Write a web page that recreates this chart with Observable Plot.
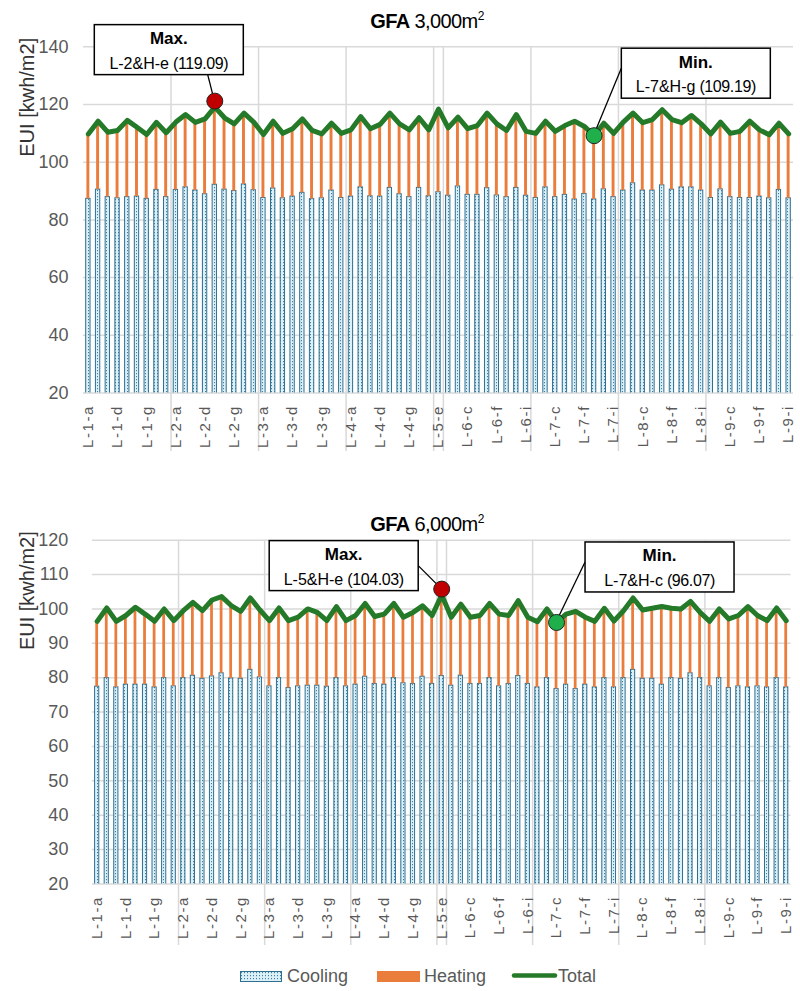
<!DOCTYPE html>
<html>
<head>
<meta charset="utf-8">
<script src="https://cdn.jsdelivr.net/npm/d3@7"></script>
<script src="https://cdn.jsdelivr.net/npm/@observablehq/plot@0.6"></script>
<style>
  body { margin: 0; background: #fff; }
  #wrap { position: relative; width: 800px; height: 991px; overflow: hidden; font-family: "Liberation Sans", Arial, sans-serif; }
  .title { position: absolute; left: 277px; width: 300px; text-align: center; font-family: "Liberation Sans Narrow", "Arial Narrow", "Liberation Sans", sans-serif; font-size: 20px; color: #000; line-height: 24px; letter-spacing: -0.6px; }
  .title b { font-weight: bold; }
  .chart { position: absolute; left: 0; }
  .chart svg g[aria-label="x-axis tick label"] { font-size: 15px; letter-spacing: 1.6px; }
  .leg { position: absolute; font-size: 18px; color: #595959; line-height: 20px; }
</style>
</head>
<body>
<div id="wrap">
  <div class="title" style="top:4px"><b>GFA</b> 3,000m<sup style="font-size:12px">2</sup></div>
  <div class="chart" id="c1" style="top:0px"></div>
  <div class="title" style="top:507px"><b>GFA</b> 6,000m<sup style="font-size:12px">2</sup></div>
  <div class="chart" id="c2" style="top:500px"></div>
  <div id="legend"></div>
</div>
<script>
// ---------- categories & tick labels ----------
const levels = ["1", "2", "3", "4", "5", "6", "7", "8", "9"];
const letters = ["a", "b", "c", "d", "e", "f", "g", "h", "i"];
const categories = levels.flatMap(l => l === "5" ? ["L-5-e"] : letters.map(h => `L-${l}-${h}`));
const xTickLabels = ["L-1-a","L-1-d","L-1-g","L-2-a","L-2-d","L-2-g","L-3-a","L-3-d","L-3-g",
  "L-4-a","L-4-d","L-4-g","L-5-e","L-6-c","L-6-f","L-6-i","L-7-c","L-7-f","L-7-i",
  "L-8-c","L-8-f","L-8-i","L-9-c","L-9-f","L-9-i"];
const groupStarts = ["L-2-a","L-3-a","L-4-a","L-5-e","L-6-a","L-7-a","L-8-a","L-9-a"];
const yTicks3000 = [20, 40, 60, 80, 100, 120, 140];
const yTicks6000 = [20, 30, 40, 50, 60, 70, 80, 90, 100, 110, 120];

// ---------- GFA 3,000 m2 ----------
const cooling3000 = [
  87.3, 90.5, 87.9, 87.5, 87.9, 88.1, 87.3, 90.4, 87.9,
  90.4, 91.3, 90.2, 88.9, 92.2, 90.5, 90.0, 92.3, 90.3,
  87.6, 90.9, 87.5, 88.1, 89.4, 87.2, 87.5, 90.2, 87.6,
  88.1, 91.3, 88.2, 88.1, 91.1, 88.9, 87.9, 91.1, 88.2,
  89.6,
  88.4, 91.6, 88.7, 88.7, 91.0, 88.5, 87.9, 91.1, 88.4,
  87.6, 91.3, 87.9, 88.7, 87.1, 89.0, 87.1, 90.6, 87.9,
  90.2, 92.7, 90.2, 90.2, 92.0, 90.5, 91.3, 91.3, 90.2,
  87.6, 90.6, 87.9, 87.6, 87.6, 88.1, 87.5, 90.4, 87.5
];
const total3000 = [
  109.8, 114.2, 110.4, 111.0, 114.5, 112.1, 109.6, 113.8, 110.2,
  113.9, 116.5, 113.8, 115.0, 119.09, 115.4, 113.3, 117.0, 113.9,
  109.6, 114.2, 110.0, 111.6, 115.0, 111.0, 109.8, 113.5, 110.0,
  111.2, 115.8, 111.6, 113.1, 117.0, 113.3, 111.2, 115.4, 111.2,
  118.4,
  111.9, 115.6, 111.6, 112.7, 117.0, 113.3, 111.0, 116.5, 110.7,
  110.0, 114.2, 110.7, 112.7, 114.2, 112.4, 109.19, 113.5, 110.0,
  113.9, 117.0, 113.7, 114.8, 118.2, 114.8, 113.7, 116.2, 113.3,
  109.8, 113.9, 110.0, 110.7, 114.2, 111.2, 109.5, 113.5, 109.8
];
const extremes3000 = [
  {kind: "Max.", cat: "L-2-e", name: "L-2&H-e", value: 119.09},
  {kind: "Min.", cat: "L-7-g", name: "L-7&H-g", value: 109.19}
];

// ---------- GFA 6,000 m2 ----------
const cooling6000 = [
  77.4, 79.9, 77.2, 78.0, 78.0, 78.0, 77.2, 79.9, 77.5,
  79.9, 80.6, 79.7, 80.4, 81.3, 79.8, 79.7, 82.3, 80.1,
  77.5, 79.9, 77.0, 77.5, 77.7, 77.7, 77.4, 79.9, 77.5,
  78.0, 80.3, 78.2, 78.0, 79.9, 78.4, 78.2, 80.3, 78.2,
  80.5,
  77.7, 80.6, 78.2, 78.2, 79.9, 77.5, 78.2, 80.5, 78.2,
  77.2, 79.9, 76.7, 78.0, 76.7, 78.0, 77.2, 79.9, 77.2,
  79.9, 82.3, 79.7, 79.7, 78.0, 79.9, 79.7, 81.3, 79.9,
  77.5, 79.9, 77.0, 77.5, 77.2, 77.5, 77.2, 79.9, 77.2
];
const total6000 = [
  96.4, 100.3, 96.4, 98.1, 100.5, 98.5, 96.4, 100.0, 96.6,
  99.5, 101.9, 99.5, 102.6, 103.6, 101.0, 99.3, 103.2, 99.7,
  96.6, 100.3, 96.6, 97.6, 100.0, 99.0, 96.6, 100.7, 96.6,
  98.1, 101.6, 97.8, 98.5, 101.6, 97.6, 99.0, 100.9, 98.1,
  104.03,
  97.6, 101.4, 97.6, 98.1, 101.6, 98.5, 98.1, 102.4, 97.6,
  96.3, 100.0, 96.07, 98.5, 99.3, 97.6, 96.4, 100.2, 96.5,
  99.5, 103.2, 99.7, 100.2, 100.7, 100.2, 100.0, 102.2, 99.0,
  96.4, 100.0, 97.1, 98.1, 100.7, 98.1, 96.6, 100.3, 96.6
];
const extremes6000 = [
  {kind: "Max.", cat: "L-5-e", name: "L-5&H-e", value: 104.03},
  {kind: "Min.", cat: "L-7-c", name: "L-7&H-c", value: 96.07}
];

// ---------- styling / layout ----------
const NARROW = "'Liberation Sans Narrow','Arial Narrow','Liberation Sans',sans-serif";
const C_COOL_STROKE = "#2f6f8f", C_HEAT = "#eb7d3c", C_TOTAL = "#247a28";
const C_MAX = "#c00000", C_MIN = "#1fb04c";

const layout3000 = {
  height: 460, marginTop: 46.3, marginBottom: 67.5, marginLeft: 83, marginRight: 7,
  yDomain: [20, 140], yTickPadding: 15, ruleExtend: -58.5, patternId: "dots1",
  annot: {
    "Max.": {dotDy: -6, boxDx: -120, boxDy: -76, lineDx: -6.6, lineDy: -26},
    "Min.": {dotDy: 0, boxDx: 27.7, boxDy: -87, lineDx: 27.7, lineDy: -67}
  }
};
const layout6000 = {
  height: 460, marginTop: 39.7, marginBottom: 76.5, marginLeft: 91.9, marginRight: 9.5,
  yDomain: [20, 120], yTickPadding: 24, ruleExtend: -61.5, patternId: "dots2",
  annot: {
    "Max.": {dotDy: -6, boxDx: -172, boxDy: -48, lineDx: -23, lineDy: -23},
    "Min.": {dotDy: 0, boxDx: 29, boxDy: -80, lineDx: 29, lineDy: -60}
  }
};

function patternDef(id) {
  return `<pattern id="${id}" patternUnits="userSpaceOnUse" width="3" height="3">
    <rect width="3" height="3" fill="#dcf0f8"></rect>
    <rect x="1" y="1" width="1" height="1.2" fill="#3f7fa5"></rect></pattern>`;
}

function makeChart(cooling, total, yTicks, extremes, L) {
  const data = categories.map((c, i) => ({cat: c, cool: cooling[i], total: total[i]}));
  const step = (800 - L.marginLeft - L.marginRight) / categories.length;
  const chart = Plot.plot({
    width: 800, height: L.height,
    marginTop: L.marginTop, marginBottom: L.marginBottom, marginLeft: L.marginLeft, marginRight: L.marginRight,
    style: {fontFamily: "'Liberation Sans', Arial, sans-serif", fontSize: "18px", color: "#595959", background: "transparent"},
    x: {type: "band", domain: categories, padding: 0},
    y: {domain: L.yDomain},
    marks: [
      Plot.gridY(yTicks, {stroke: "#d9d9d9", strokeOpacity: 1, strokeWidth: 1.5}),
      Plot.ruleX(groupStarts, {x: d => d, dx: -step / 2, stroke: "#d9d9d9", strokeWidth: 1.5, insetBottom: L.ruleExtend}),
      Plot.barY(data, {x: "cat", y1: 0, y2: "cool", fill: `url(#${L.patternId})`, stroke: C_COOL_STROKE, strokeWidth: 1,
        insetLeft: 2.7, insetRight: 2.7, clip: true}),
      Plot.barY(data, {x: "cat", y1: "cool", y2: "total", fill: C_HEAT, insetLeft: 3.4, insetRight: 3.4}),
      Plot.line(data, {x: "cat", y: "total", stroke: C_TOTAL, strokeWidth: 5, strokeLinejoin: "round"}),
      Plot.axisY(yTicks, {tickSize: 0, tickPadding: L.yTickPadding, label: null, fill: "#595959"}),
      Plot.axisX(xTickLabels, {tickSize: 0, tickRotate: -90, tickPadding: 12, label: null, fill: "#595959"}),
      Plot.text(["EUI [kwh/m2]"], {frameAnchor: "top-left", rotate: -90, textAnchor: "end",
        dx: 19 - L.marginLeft, dy: -9, fontSize: 20, fill: "#333"}),
      Plot.dot(extremes, {x: "cat", y: "value", r: 8,
        fill: d => d.kind === "Max." ? C_MAX : C_MIN, stroke: "#222", strokeWidth: 1})
    ]
  });
  const svg = d3.select(chart);
  svg.insert("defs", ":first-child").html(patternDef(L.patternId));

  // the Max. marker sits slightly above the line, as in the reference
  const xs = chart.scale("x"), ys = chart.scale("y");
  svg.select('g[aria-label="dot"]').selectAll("circle").each(function(_, j) {
    const dy = L.annot[extremes[j].kind].dotDy;
    const c = d3.select(this);
    c.attr("cy", +c.attr("cy") + dy);
  });

  // annotation boxes and leader lines, positioned from the plot's scales
  const ann = svg.insert("g", 'g[aria-label="dot"]').attr("class", "annotations");
  extremes.forEach(e => {
    const A = L.annot[e.kind];
    const cx = xs.apply(e.cat) + xs.bandwidth / 2;
    const cy = ys.apply(e.value) + A.dotDy;
    ann.append("line").attr("x1", cx + A.lineDx).attr("y1", cy + A.lineDy).attr("x2", cx).attr("y2", cy)
      .attr("stroke", "#000").attr("stroke-width", 1.3);
    const bx = cx + A.boxDx, by = cy + A.boxDy, bw = 149, bh = 50;
    ann.append("rect").attr("x", bx).attr("y", by).attr("width", bw).attr("height", bh)
      .attr("fill", "#fff").attr("stroke", "#000").attr("stroke-width", 1.5);
    ann.append("text").attr("x", bx + bw / 2).attr("y", by + 14).attr("text-anchor", "middle")
      .attr("dominant-baseline", "central").attr("font-weight", "bold").attr("font-size", 17)
      .attr("font-family", NARROW).attr("fill", "#000").text(e.kind);
    const t = ann.append("text").attr("x", bx + bw / 2).attr("y", by + 38).attr("text-anchor", "middle")
      .attr("dominant-baseline", "central").attr("font-size", 16).attr("fill", "#000");
    t.append("tspan").attr("font-family", "'Liberation Sans', Arial, sans-serif").text(e.name);
    t.append("tspan").attr("font-family", NARROW).attr("letter-spacing", "-0.4").text(` (${e.value.toFixed(2)})`);
  });
  return chart;
}

document.getElementById("c1").appendChild(makeChart(cooling3000, total3000, yTicks3000, extremes3000, layout3000));
document.getElementById("c2").appendChild(makeChart(cooling6000, total6000, yTicks6000, extremes6000, layout6000));

// ---------- legend ----------
const legendItems = ["Cooling", "Heating", "Total"];
const legend = document.getElementById("legend");
legend.innerHTML = `
  <svg class="leg" style="left:240px;top:971px" width="42" height="11">
    <defs>${patternDef("dotsLeg")}</defs>
    <rect x="0.5" y="0.5" width="41" height="10" fill="url(#dotsLeg)" stroke="${C_COOL_STROKE}" stroke-width="1"></rect>
  </svg>
  <div class="leg" style="left:287px;top:966px">${legendItems[0]}</div>
  <svg class="leg" style="left:377px;top:971px" width="43" height="11"><rect width="43" height="11" fill="${C_HEAT}"></rect></svg>
  <div class="leg" style="left:424px;top:966px">${legendItems[1]}</div>
  <svg class="leg" style="left:511px;top:972px" width="47" height="7"><line x1="3" y1="3.5" x2="44" y2="3.5" stroke="${C_TOTAL}" stroke-width="4.5" stroke-linecap="round"></line></svg>
  <div class="leg" style="left:558px;top:966px">${legendItems[2]}</div>`;
</script>
</body>
</html>
